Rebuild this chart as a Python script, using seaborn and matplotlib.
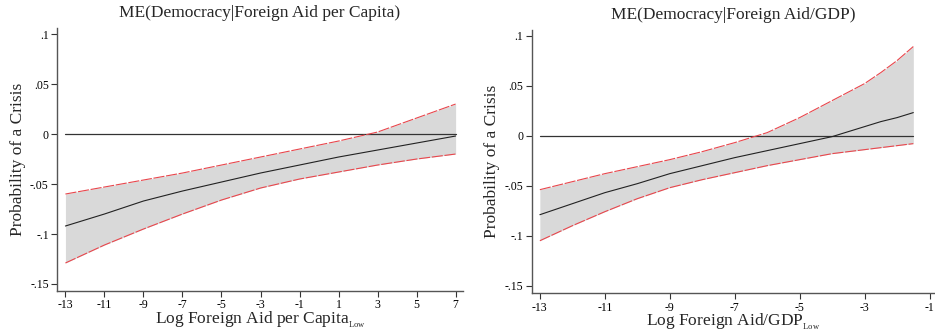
import numpy as np
import pandas as pd
import matplotlib
matplotlib.use("Agg")
import matplotlib.pyplot as plt
import seaborn as sns

sns.set_style("ticks")
plt.rcParams['font.family'] = ['Liberation Serif', 'DejaVu Serif']
plt.rcParams['mathtext.fontset'] = 'custom'
plt.rcParams['mathtext.rm'] = 'Liberation Serif'
plt.rcParams['mathtext.it'] = 'Liberation Serif:italic'

# Left panel: Log Foreign Aid per Capita
x1 = [-13, -11, -9, -7, -5, -3, -1, 1, 3, 5, 7]
me1 = [-0.092, -0.080, -0.067, -0.057, -0.048, -0.039, -0.031, -0.023, -0.016, -0.009, -0.002]
hi1 = [-0.060, -0.053, -0.046, -0.039, -0.031, -0.023, -0.015, -0.007, 0.002, 0.016, 0.030]
lo1 = [-0.129, -0.111, -0.095, -0.080, -0.066, -0.054, -0.045, -0.038, -0.031, -0.025, -0.020]

# Right panel: Log Foreign Aid/GDP
x2 = [-13, -12, -11, -10, -9, -8, -7, -6, -5, -4, -3, -2.5, -2, -1.5]
me2 = [-0.079, -0.068, -0.057, -0.048, -0.038, -0.030, -0.022, -0.015, -0.008, -0.001, 0.009, 0.014, 0.018, 0.023]
hi2 = [-0.054, -0.046, -0.038, -0.031, -0.024, -0.016, -0.007, 0.003, 0.018, 0.035, 0.052, 0.063, 0.075, 0.089]
lo2 = [-0.105, -0.090, -0.076, -0.063, -0.052, -0.044, -0.037, -0.030, -0.024, -0.018, -0.014, -0.012, -0.010, -0.008]

yticks = [0.1, 0.05, 0, -0.05, -0.1, -0.15]
yticklabels = ['.1', '.05', '0', '-.05', '-.1', '-.15']
xticks1 = [-13, -11, -9, -7, -5, -3, -1, 1, 3, 5, 7]
xticks2 = [-13, -11, -9, -7, -5, -3, -1]

titles = ['ME(Democracy|Foreign Aid per Capita)', 'ME(Democracy|Foreign Aid/GDP)']
xlabels = ['Log Foreign Aid per Capita$_{_{\\mathrm{Low}}}$', 'Log Foreign Aid/GDP$_{_{\\mathrm{Low}}}$']
ylabel = 'Probability of a Crisis'

fig = plt.figure(figsize=(9.35, 3.32), dpi=100)
ax1 = fig.add_axes([0.061, 0.1235, 0.434, 0.792])
ax2 = fig.add_axes([0.5687, 0.1166, 0.430, 0.793])

panels = [
    (ax1, x1, me1, hi1, lo1, xticks1, (-13.43, 7.37), (-0.157, 0.106)),
    (ax2, x2, me2, hi2, lo2, xticks2, (-13.25, -0.87), (-0.1575, 0.1055)),
]

red = '#e8464c'
for i, (ax, x, me, hi, lo, xt, xl, yl) in enumerate(panels):
    df = pd.DataFrame({'x': x, 'me': me, 'hi': hi, 'lo': lo})
    ax.fill_between(df['x'], df['lo'], df['hi'], color='#d9d9d9', linewidth=0, zorder=1)
    sns.lineplot(data=df, x='x', y='hi', ax=ax, color=red, linewidth=0.8,
                 zorder=3).lines[-1].set_dashes([10, 1.5])
    sns.lineplot(data=df, x='x', y='lo', ax=ax, color=red, linewidth=0.8,
                 zorder=3).lines[-1].set_dashes([10, 1.5])
    zero = pd.DataFrame({'x': [x[0], x[-1]], 'y': [0, 0]})
    sns.lineplot(data=zero, x='x', y='y', ax=ax, color='#333333', linewidth=0.9, zorder=2)
    sns.lineplot(data=df, x='x', y='me', ax=ax, color='#222222', linewidth=0.8, zorder=4)

    ax.set_xlim(*xl)
    ax.set_ylim(*yl)
    ax.set_xticks(xt)
    ax.set_xticklabels([str(v) for v in xt], fontsize=8.5)
    ax.set_yticks(yticks)
    ax.set_yticklabels(yticklabels, fontsize=8.5)
    ax.tick_params(direction='out', length=4, width=0.8, colors='#333333', pad=2)
    for lab in ax.get_xticklabels() + ax.get_yticklabels():
        lab.set_color('black')
    sns.despine(ax=ax)
    for s in ['left', 'bottom']:
        ax.spines[s].set_color('#555555')
        ax.spines[s].set_linewidth(1.0)
    ax.set_title(titles[i], fontsize=12.5, pad=8)
    ax.set_xlabel(xlabels[i], fontsize=12.5, labelpad=-1)
    ax.set_ylabel(ylabel, fontsize=12.5, labelpad=3)

fig.savefig('out.png', dpi=100)
